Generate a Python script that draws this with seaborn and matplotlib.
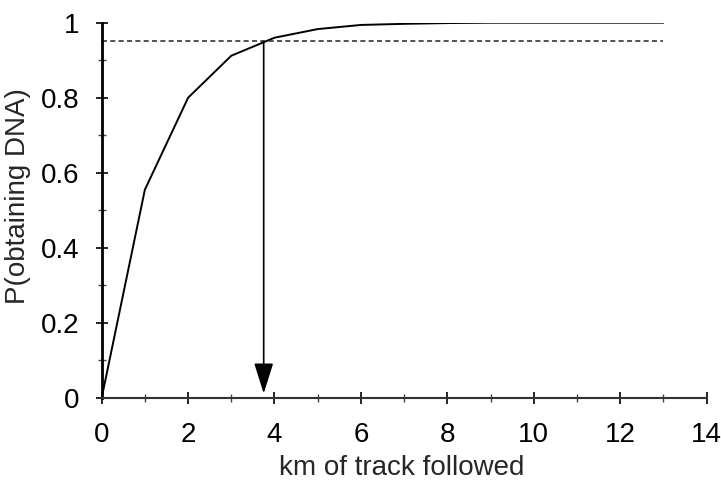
import pandas as pd
import matplotlib.pyplot as plt
import seaborn as sns
from matplotlib.ticker import MultipleLocator

# values
km = [0, 1, 2, 3, 4, 5, 6, 7, 8, 9, 10, 11, 12, 13]
p_dna = [0.0, 0.555, 0.80, 0.912, 0.96, 0.983, 0.994, 0.997, 0.999, 1.0, 1.0, 1.0, 1.0, 1.0]
threshold = 0.95
crossing_km = 3.75

sns.set_style("white")
plt.rcParams['font.family'] = ['Liberation Sans', 'DejaVu Sans']

df = pd.DataFrame({"km": km, "p": p_dna})

fig = plt.figure(figsize=(7.21, 4.83), dpi=100)
ax = fig.add_axes([0.141, 0.176, 0.839, 0.777])

sns.lineplot(data=df, x="km", y="p", ax=ax, color="black", linewidth=1.4)

# 95% line and the arrow down to the x axis
ax.hlines(threshold, km[0], km[-1], colors="#333333", linestyles=(0, (3, 2)), linewidth=1.2)
ax.annotate("", xy=(crossing_km, 0.012), xytext=(crossing_km, threshold),
            arrowprops=dict(arrowstyle="-|>,head_length=1.9,head_width=0.6",
                            color="black", lw=1.2, shrinkA=0, shrinkB=0))

ax.set_xlim(0, 14)
ax.set_ylim(0, 1)
ax.xaxis.set_major_locator(MultipleLocator(2))
ax.xaxis.set_minor_locator(MultipleLocator(1))
ax.yaxis.set_minor_locator(MultipleLocator(0.1))
ax.set_yticks([0, 0.2, 0.4, 0.6, 0.8, 1.0])
ax.set_yticklabels(["0", "0.2", "0.4", "0.6", "0.8", "1"])

ax.tick_params(which="major", direction="inout", length=8, width=1.2, labelsize=20,
               colors="black")
ax.tick_params(which="minor", direction="inout", length=5.5, width=1.0, colors="#444444")
ax.tick_params(axis="x", which="major", pad=13)
ax.tick_params(axis="y", which="major", pad=12)
ax.tick_params(axis="x", which="both", bottom=True)
ax.tick_params(axis="y", which="both", left=True)

sns.despine(ax=ax)
ax.spines["left"].set_linewidth(2)
ax.spines["bottom"].set_linewidth(1.5)
ax.spines["left"].set_color("black")
ax.spines["bottom"].set_color("#333333")

ax.set_xlabel("km of track followed", fontsize=20)
ax.set_ylabel("P(obtaining DNA)", fontsize=20)
ax.xaxis.set_label_coords(0.496, -0.152)
ax.yaxis.set_label_coords(-0.117, 0.537)

fig.savefig("out.png", dpi=100)
